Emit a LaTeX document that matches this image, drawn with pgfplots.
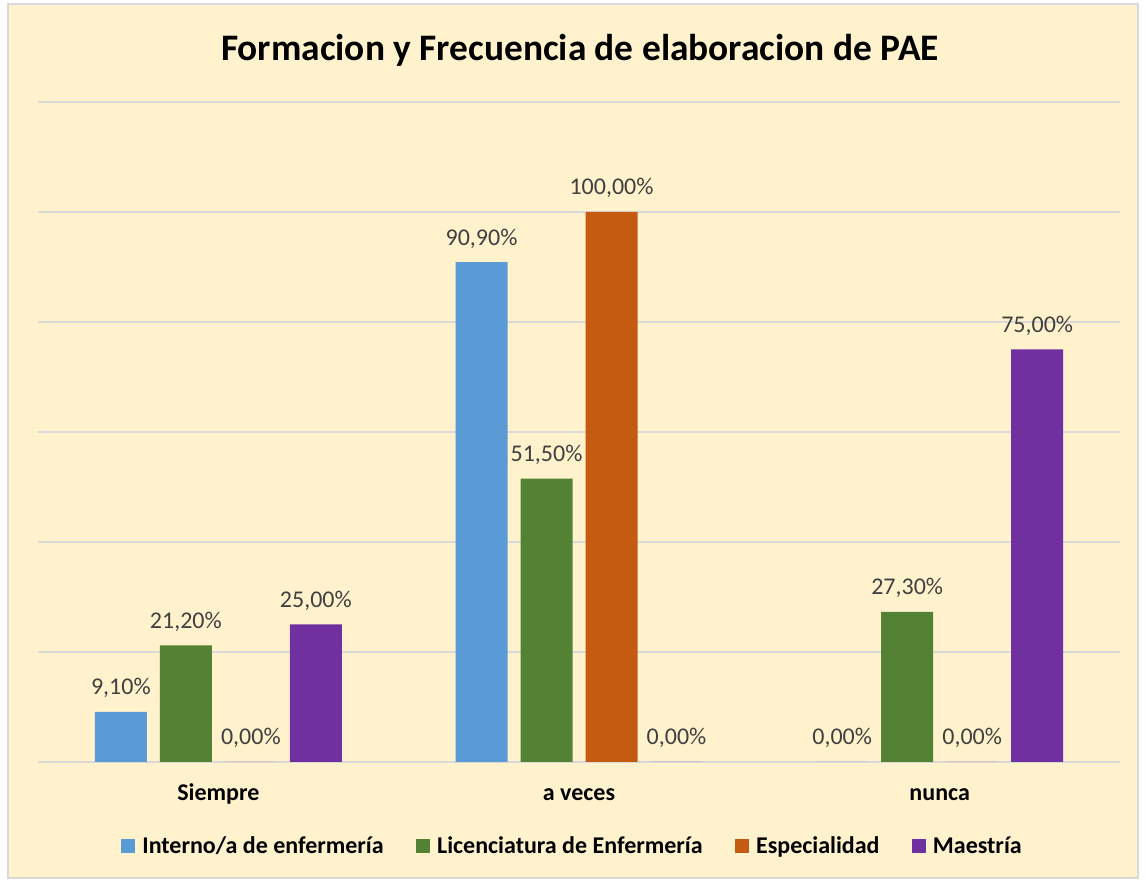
\documentclass[border=0pt]{standalone}
\usepackage{fontspec}
\setmainfont{Carlito}
\usepackage{pgfplots}
\pgfplotsset{compat=1.18}

\definecolor{bgcream}{HTML}{FFF2CC}
\definecolor{gridgray}{HTML}{D9D9D9}
\definecolor{cBlue}{HTML}{5B9BD5}
\definecolor{cGreen}{HTML}{548235}
\definecolor{cOrange}{HTML}{C55A11}
\definecolor{cPurple}{HTML}{7030A0}
\definecolor{lbl}{HTML}{404040}

\begin{document}
\begin{tikzpicture}
% page frame: 1px = 0.5pt
\fill[white] (0,0) rectangle (573pt,441pt);
\filldraw[fill=bgcream, draw=gridgray, line width=0.8pt] (4pt,2pt) rectangle (569pt,439pt);
\node[font=\bfseries\fontsize{18.7}{20}\selectfont] at (290pt,416pt) {Formacion y Frecuencia de elaboracion de PAE};

\begin{axis}[
  at={(19pt,60pt)}, anchor=south west,
  scale only axis, width=541pt, height=330pt,
  xmin=-0.5, xmax=2.5, ymin=0, ymax=120,
  xtick={0,1,2}, xticklabels={Siempre,a veces,nunca},
  ytick={0,20,...,120}, yticklabels={},
  major tick length=0pt,
  ymajorgrids, grid style={gridgray, line width=0.8pt},
  axis line style={draw=none},
  xticklabel style={font=\bfseries\fontsize{12}{14}\selectfont, anchor=base, yshift=-19.5pt},
  ybar=6.5pt, bar width=26pt,
  clip=false,
  /pgf/number format/assume math mode=true,
  nodes near coords={\pgfmathprintnumber[fixed,fixed zerofill,precision=2,use comma]{\pgfplotspointmeta}\%},
  every node near coord/.append style={font=\fontsize{12}{14}\selectfont, text=lbl, anchor=base, yshift=8.5pt},
  legend style={at={(0.4945,-0.128)}, anchor=center, draw=none, fill=none,
    legend columns=4, font=\bfseries\fontsize{12}{14}\selectfont,
    nodes={inner sep=1.5pt},
    /tikz/every odd column/.append style={column sep=2pt},
    /tikz/every even column/.append style={column sep=14.7pt}},
  legend image code/.code={\fill[#1] (0pt,-3.5pt) rectangle (7pt,3.5pt);},
]
\addplot[fill=cBlue, draw=none] coordinates {(0,9.1) (1,90.9) (2,0)};
\addlegendentry{Interno/a de enfermería}
\addplot[fill=cGreen, draw=none] coordinates {(0,21.2) (1,51.5) (2,27.3)};
\addlegendentry{Licenciatura de Enfermería}
\addplot[fill=cOrange, draw=none] coordinates {(0,0) (1,100) (2,0)};
\addlegendentry{Especialidad}
\addplot[fill=cPurple, draw=none] coordinates {(0,25) (1,0) (2,75)};
\addlegendentry{Maestría}
\end{axis}
\end{tikzpicture}
\end{document}
